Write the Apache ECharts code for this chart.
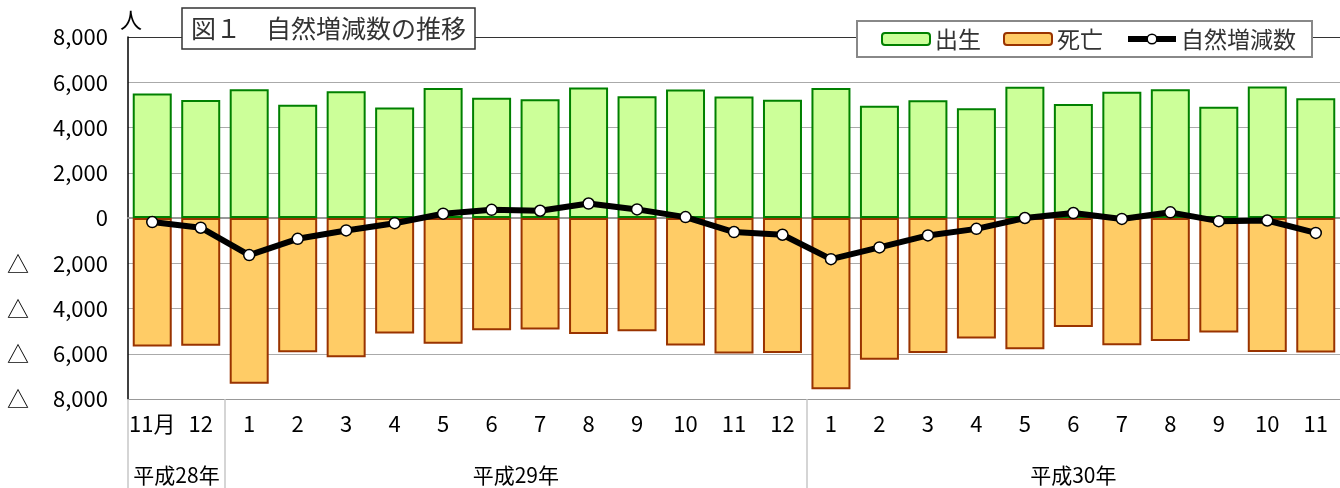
<!DOCTYPE html>
<html><head><meta charset="utf-8">
<script src="https://cdn.jsdelivr.net/npm/echarts@6/dist/echarts.min.js"></script>
<style>html,body{margin:0;padding:0;background:#fff}#c{width:1340px;height:488px}</style>
</head><body><div id="c"></div>
<script>
const months = ['11月','12','1','2','3','4','5','6','7','8','9','10','11','12','1','2','3','4','5','6','7','8','9','10','11'];
const births = [5500,5220,5690,5010,5600,4880,5750,5320,5250,5770,5380,5680,5370,5230,5750,4960,5200,4850,5800,5040,5580,5690,4920,5810,5290];
const deaths = [-5680,-5650,-7330,-5930,-6150,-5110,-5560,-4960,-4930,-5130,-5000,-5640,-5990,-5970,-7570,-6260,-5970,-5330,-5800,-4820,-5620,-5440,-5060,-5920,-5950];
const natural = [-180,-430,-1640,-920,-550,-230,190,360,320,640,380,40,-620,-740,-1820,-1300,-770,-480,0,220,-40,250,-140,-110,-660];
const yearLabels = ['平成28年','平成29年','平成30年'];
const yearCenters = [1, 8, 19.5];
const yearBounds = [0, 2, 14];
const yTicks = {min:-8000, max:8000, interval:2000};

const FONT = '"Noto Sans CJK JP", "Noto Sans", sans-serif';
const chart = echarts.init(document.getElementById('c'));
function fmt(n){ return String(n).replace(/\B(?=(\d{3})+(?!\d))/g, ','); }

chart.setOption({
  animation:false,
  textStyle:{fontFamily:FONT},
  title:{
    text:'図１　自然増減数の推移',
    left:182, top:8,
    padding:[5,9,5,9],
    borderWidth:1.5, borderColor:'#333', backgroundColor:'#fff',
    textStyle:{fontFamily:FONT, fontSize:25, fontWeight:'normal', color:'#333', lineHeight:31}
  },
  legend:{
    left:857, top:21,
    padding:[5,16,5,24],
    borderColor:'#888', borderWidth:2, backgroundColor:'#fff',
    itemWidth:48, itemHeight:12, itemGap:22,
    textStyle:{fontFamily:FONT, fontSize:23, color:'#333', lineHeight:26},
    data:['出生','死亡',{name:'自然増減数', lineStyle:{width:6, color:'#000'}, itemStyle:{color:'#fff', borderColor:'#000', borderWidth:1.5}}]
  },
  grid:{left:128, top:37, right:-6, bottom:89, containLabel:false},
  xAxis:[{
    type:'category', data:months, position:'bottom',
    axisLine:{show:true, lineStyle:{color:'#999', width:2}},
    axisTick:{show:false},
    axisLabel:{fontFamily:FONT, fontSize:22, color:'#000', margin:14, interval:0}
  },{
    type:'value', min:0, max:25, position:'bottom',
    axisLine:{show:false},
    splitLine:{show:false},
    axisTick:{show:true, customValues:yearBounds, length:89, lineStyle:{color:'#c8c8c8', width:1.5}},
    axisLabel:{customValues:yearCenters, fontFamily:FONT, fontSize:21, color:'#000', margin:66,
      formatter:function(v){ const i = yearCenters.indexOf(v); return i>=0 ? yearLabels[i] : ''; }}
  }],
  yAxis:{
    type:'value', min:yTicks.min, max:yTicks.max, interval:yTicks.interval,
    name:'人', nameLocation:'end', nameGap:6,
    nameTextStyle:{fontFamily:FONT, fontSize:22, color:'#000', align:'left', padding:[0,0,0,-8]},
    axisLine:{show:true, lineStyle:{color:'#000', width:1.5}},
    axisTick:{show:false},
    splitLine:{show:true, lineStyle:{color:['#999','#aaa','#aaa','#aaa','#888','#aaa','#aaa','#aaa','#333'], width:1}},
    axisLabel:{
      margin:20, fontFamily:FONT, fontSize:22, color:'#000',
      formatter:function(v){ return v<0 ? '{t|△}{n|'+fmt(-v)+'}' : '{n|'+fmt(v)+'}'; },
      rich:{ t:{fontFamily:FONT, fontSize:22, color:'#000', width:46, align:'left'}, n:{fontFamily:FONT, fontSize:22, color:'#000'} }
    }
  },
  series:[
    {name:'出生', type:'bar', stack:'s', data:births, barWidth:39,
     itemStyle:{color:'#CCFF99', borderColor:'#008000', borderWidth:2}},
    {name:'死亡', type:'bar', stack:'s', data:deaths, barWidth:39,
     itemStyle:{color:'#FFCC66', borderColor:'#993300', borderWidth:2}},
    {name:'自然増減数', type:'line', data:natural, z:5,
     symbol:'circle', symbolSize:11,
     lineStyle:{color:'#000', width:6},
     itemStyle:{color:'#fff', borderColor:'#000', borderWidth:1.5}}
  ]
});
</script></body></html>
